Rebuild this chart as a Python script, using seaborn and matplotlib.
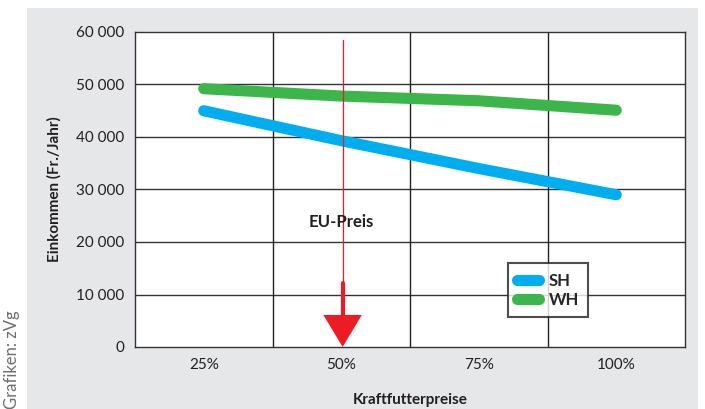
import seaborn as sns
import pandas as pd
import matplotlib.pyplot as plt
from matplotlib.patches import Rectangle

# values
preise = ["25%", "50%", "75%", "100%"]
sh = [45000, 39300, 34000, 29000]
wh = [49200, 47800, 46900, 45100]
yticks = [0, 10000, 20000, 30000, 40000, 50000, 60000]

blau = "#00AEEF"
gruen = "#3CB54A"
rot = "#ED1C24"

df = pd.DataFrame({
    "Preis": preise * 2,
    "Einkommen": sh + wh,
    "Sorte": ["SH"] * 4 + ["WH"] * 4,
})

sns.set_style("white")
plt.rcParams["font.family"] = ["Lato", "DejaVu Sans"]

fig = plt.figure(figsize=(7.05, 4.09), dpi=100)
fig.patch.set_facecolor("white")
# grey panel behind the chart
fig.patches.append(Rectangle((27 / 705, 0), 671 / 705, 401 / 409,
                             transform=fig.transFigure, facecolor="#E6E7E8",
                             edgecolor="none", zorder=-10))
ax = fig.add_axes([135 / 705, 62 / 409, 550 / 705, 315 / 409])
ax.set_facecolor("white")

sns.lineplot(data=df, x="Preis", y="Einkommen", hue="Sorte",
             palette={"SH": blau, "WH": gruen}, linewidth=8,
             solid_capstyle="round", ax=ax, zorder=5)

ax.set_xlim(-0.5, 3.5)
ax.set_ylim(0, 60000)
ax.set_yticks(yticks)
ax.set_yticklabels([f"{v:,}".replace(",", " ") for v in yticks], fontsize=11, color="#231F20")
ax.set_xticks(range(len(preise)))
ax.set_xticklabels(preise, fontsize=11, color="#231F20")
ax.tick_params(length=0, pad=8)

# grid: horizontal at ticks, vertical between categories
for v in yticks[1:-1]:
    ax.axhline(v, color="#333333", lw=1, zorder=1)
for x in [0.5, 1.5, 2.5]:
    ax.axvline(x, color="#222222", lw=1, zorder=1)
for s in ax.spines.values():
    s.set_color("#333333")
    s.set_linewidth(1)

ax.set_xlabel("Kraftfutterpreise", fontsize=11, fontweight="bold", labelpad=15, color="#231F20")
ax.set_ylabel("Einkommen (Fr./Jahr)", fontsize=11, fontweight="bold", labelpad=10, color="#231F20")

# EU-Preis arrow
ax.plot([1.01, 1.01], [58500, 12200], color=rot, lw=0.9, zorder=6)
ax.plot([1.01, 1.01], [12200, 5800], color=rot, lw=3, zorder=6)
ax.fill([0.87, 1.15, 1.01], [6100, 6100, 0], color=rot, zorder=6, lw=0)
ax.text(1.0, 23800, "EU-Preis", ha="center", va="center", fontsize=12,
        fontweight="bold", color="#231F20", zorder=7)

leg = ax.legend(loc="lower left", bbox_to_anchor=(0.678, 0.095), borderaxespad=0,
                frameon=True, fancybox=False, handlelength=1.3, handletextpad=0.6,
                fontsize=12, borderpad=0.55, labelspacing=0.2)
leg.get_frame().set_edgecolor("#231F20")
leg.get_frame().set_linewidth(1.5)
for t in leg.get_texts():
    t.set_fontweight("bold")
leg.set_zorder(10)

fig.text(0.017, 0.0, "Grafiken: zVg", rotation=90, fontsize=12, color="#6E6E6E",
         ha="center", va="bottom")

fig.savefig("out.png", dpi=100)
